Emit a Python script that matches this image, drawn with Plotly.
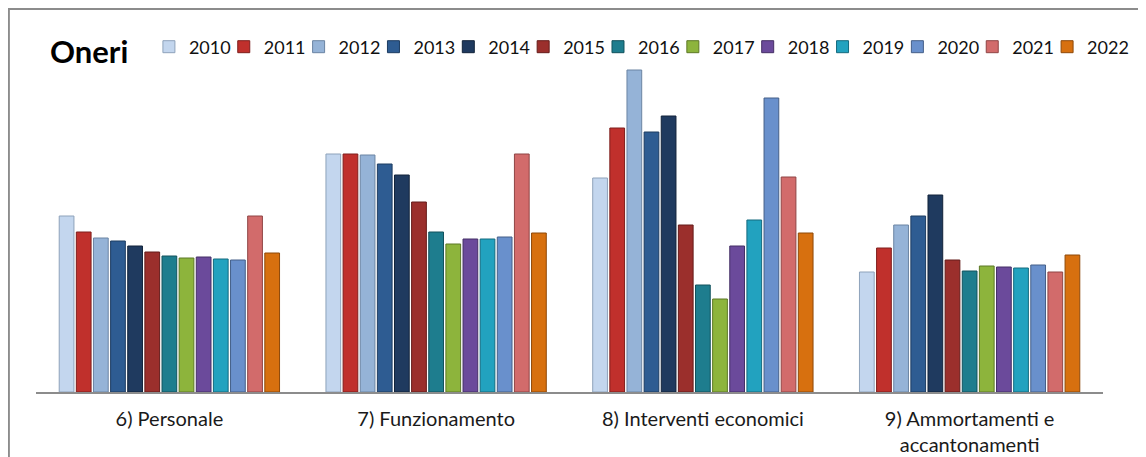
import plotly.graph_objects as go

categories = ["6) Personale", "7) Funzionamento", "8) Interventi economici",
              "9) Ammortamenti e<br>accantonamenti"]
years = ["2010", "2011", "2012", "2013", "2014", "2015", "2016",
         "2017", "2018", "2019", "2020", "2021", "2022"]

# values per year, in the order of categories
v2010 = [176, 238, 214, 120]
v2011 = [160, 238, 264, 144]
v2012 = [154, 237, 322, 167]
v2013 = [151, 228, 260, 176]
v2014 = [146, 217, 276, 197]
v2015 = [140, 190, 167, 132]
v2016 = [136, 160, 107, 121]
v2017 = [134, 148, 93, 126]
v2018 = [135, 153, 146, 125]
v2019 = [133, 153, 172, 124]
v2020 = [132, 155, 294, 127]
v2021 = [176, 238, 215, 120]
v2022 = [139, 159, 159, 137]

series = [v2010, v2011, v2012, v2013, v2014, v2015, v2016,
          v2017, v2018, v2019, v2020, v2021, v2022]

colors = ["#C3D6EE", "#C0302C", "#95B3D7", "#2E5C92", "#1F3A5F", "#9B2F2C",
          "#1E7D8E", "#8DB43C", "#6B4A9B", "#22A2BF", "#6990CC", "#D26B6B", "#D7700F"]
edges = ["#8EA2BA", "#7E1E1C", "#6B84A3", "#1D3C61", "#12233A", "#651C1A",
         "#12525D", "#5D7826", "#452F66", "#146A7E", "#455F88", "#8F4545", "#8E4909"]

W, H = 1138, 449
ML, MR, MT, MB = 28, 28, 44, 65
PW = W - ML - MR
PH = H - MT - MB

fig = go.Figure()
legend_layouts = {}
for k, (y, vals, c, e) in enumerate(zip(years, series, colors, edges)):
    lname = "legend" if k == 0 else f"legend{k + 1}"
    fig.add_trace(go.Bar(
        name=y, x=categories, y=vals, legend=lname,
        marker=dict(color=c, line=dict(color=e, width=1)),
    ))
    item_left = 142.5 + 75.9 * k
    legend_layouts[lname] = dict(
        orientation="h", x=(item_left - ML) / PW, xanchor="left",
        y=(PH + MT - 39) / PH, yanchor="middle",
        font=dict(size=18, color="#111111"), itemwidth=30,
        bgcolor="rgba(0,0,0,0)", borderwidth=0,
    )

fig.update_layout(
    template="none",
    width=W, height=H,
    margin=dict(l=ML, r=MR, t=MT, b=MB, pad=0),
    paper_bgcolor="white", plot_bgcolor="white",
    barmode="group", bargap=0.165, bargroupgap=0.14,
    font=dict(family="Lato, 'Open Sans', sans-serif", size=16, color="#1a1a1a"),
    title=dict(text="<b>Oneri</b>", x=42 / W, xanchor="left", y=1 - 44 / H, yanchor="middle",
               font=dict(size=31, color="black", family="Lato, sans-serif")),
    showlegend=True,
    xaxis=dict(showline=True, linecolor="#8C8C8C", linewidth=2, ticks="",
               showgrid=False, zeroline=False, automargin=False,
               ticklabelstandoff=8,
               tickfont=dict(size=20, color="#1a1a1a")),
    yaxis=dict(range=[0, 340], visible=False, showgrid=False, zeroline=False,
               automargin=False),
    shapes=[dict(type="path", xref="paper", yref="paper",
                 path=f"M {(0.5 - ML) / PW},-0.5 L {(0.5 - ML) / PW},{(PH + MT - 1) / PH} L 1.05,{(PH + MT - 1) / PH}",
                 line=dict(color="#8C8C8C", width=2))],
    **legend_layouts,
)

fig.write_html("out.html")
